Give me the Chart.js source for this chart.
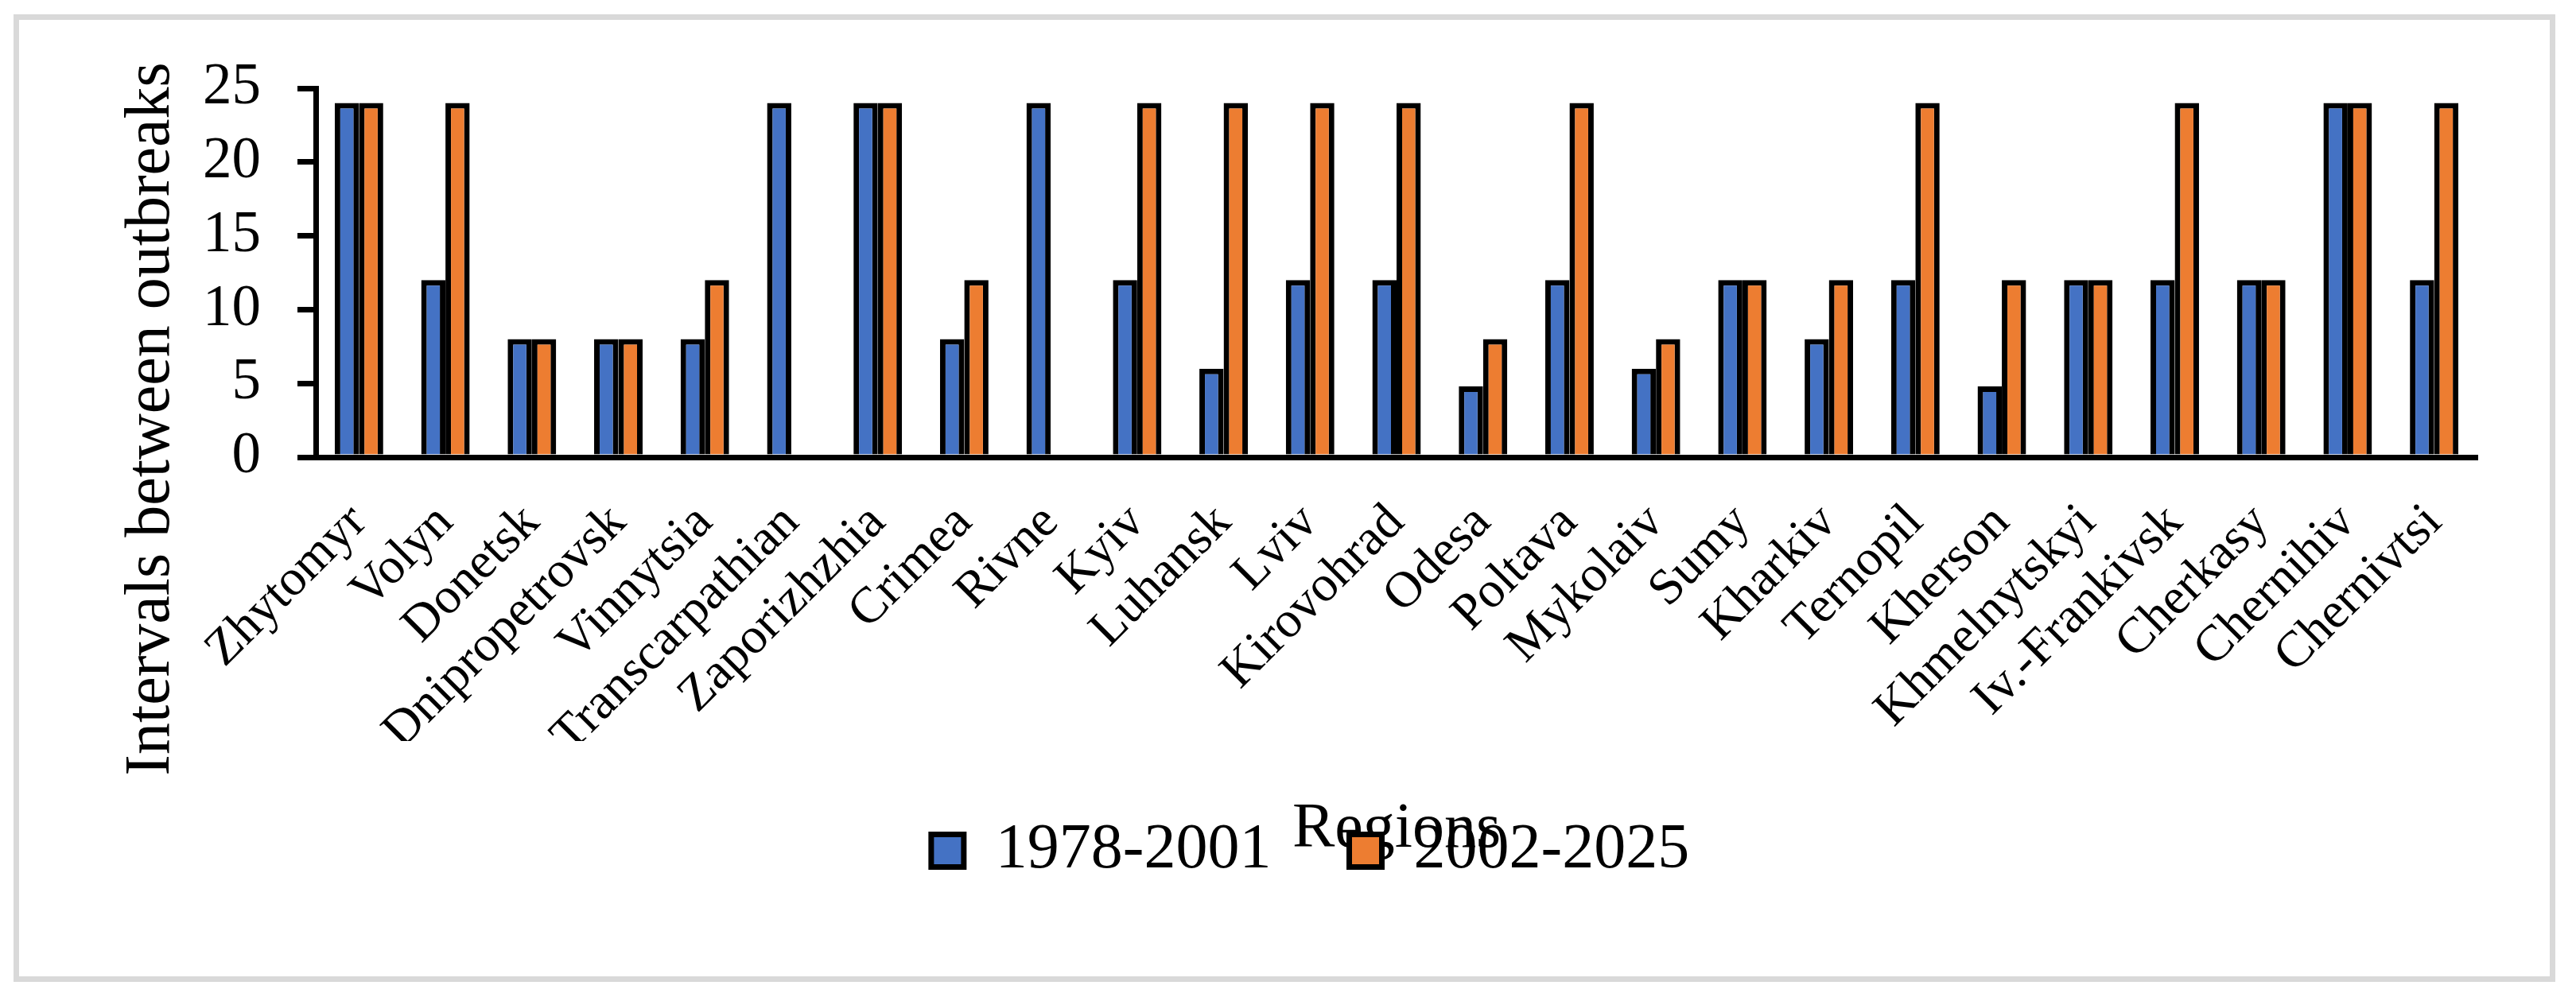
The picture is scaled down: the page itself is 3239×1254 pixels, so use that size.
<!DOCTYPE html>
<html lang="en">

<head>
    <meta charset="UTF-8">
    <title>Intervals between outbreaks</title>
    <style>
        body {
            margin: 0;
            background: #ffffff;
        }
    </style>
</head>

<body>
    <canvas id="outbreaks-chart" width="3239" height="1254"></canvas>

    <script src="https://cdn.jsdelivr.net/npm/chart.js"></script>
    <script>
        // categories (x axis)
        const regions = ['Zhytomyr', 'Volyn', 'Donetsk', 'Dnipropetrovsk', 'Vinnytsia', 'Transcarpathian',
            'Zaporizhzhia', 'Crimea', 'Rivne', 'Kyiv', 'Luhansk', 'Lviv', 'Kirovohrad', 'Odesa', 'Poltava',
            'Mykolaiv', 'Sumy', 'Kharkiv', 'Ternopil', 'Kherson', 'Khmelnytskyi', 'Iv.-Frankivsk', 'Cherkasy',
            'Chernihiv', 'Chernivtsi'];

        // series
        const seriesNames = ['1978-2001', '2002-2025'];
        const period1 = [24, 12, 8, 8, 8, 24, 24, 8, 24, 12, 6, 12, 12, 4.8, 12, 6, 12, 8, 12, 4.8, 12, 12, 12, 24, 12];
        const period2 = [24, 24, 8, 8, 12, null, 24, 12, null, 24, 24, 24, 24, 8, 24, 8, 12, 12, 24, 12, 12, 24, 12, 24, 24];

        // y axis ticks
        const yMin = 0;
        const yMax = 25;
        const yStep = 5;

        const yTitle = 'Intervals between outbreaks';
        const xTitle = 'Regions';

        const serif = '"Liberation Serif", "Times New Roman", serif';
        Chart.defaults.font.family = serif;
        Chart.defaults.color = '#000000';

        // grey frame round the whole chart
        const framePlugin = {
            id: 'frame',
            beforeDraw(chart) {
                const ctx = chart.ctx;
                ctx.save();
                ctx.fillStyle = '#ffffff';
                ctx.fillRect(0, 0, chart.width, chart.height);
                ctx.strokeStyle = '#d9d9d9';
                ctx.lineWidth = 7;
                ctx.strokeRect(20.5, 21.5, 3189, 1210);
                ctx.restore();
            }
        };

        // y title sits lower than the plot centre, so draw it here
        const yTitlePlugin = {
            id: 'yTitle',
            afterDraw(chart) {
                const ctx = chart.ctx;
                ctx.save();
                ctx.translate(chart.chartArea.left - 206, 527);
                ctx.rotate(-Math.PI / 2);
                ctx.font = '80px ' + serif;
                ctx.fillStyle = '#000000';
                ctx.textAlign = 'center';
                ctx.textBaseline = 'middle';
                ctx.fillText(yTitle, 0, 0);
                ctx.restore();
            }
        };

        var ctx = document.getElementById('outbreaks-chart').getContext('2d');
        var outbreaksChart = new Chart(ctx, {
            type: 'bar',
            data: {
                labels: regions,
                datasets: [{
                    label: seriesNames[0],
                    data: period1,
                    backgroundColor: '#4472C4',
                    borderColor: '#000000',
                    borderWidth: 7
                }, {
                    label: seriesNames[1],
                    data: period2,
                    backgroundColor: '#ED7D31',
                    borderColor: '#000000',
                    borderWidth: 7
                }]
            },
            options: {
                responsive: false,
                devicePixelRatio: 1,
                animation: false,
                categoryPercentage: 0.561,
                barPercentage: 1.0,
                layout: {
                    padding: { left: 180, right: 124, top: 111, bottom: 134 }
                },
                plugins: {
                    tooltip: { enabled: false },
                    legend: {
                        position: 'bottom',
                        labels: {
                            boxWidth: 41,
                            boxHeight: 41,
                            padding: 98,
                            font: { size: 80 }
                        }
                    }
                },
                scales: {
                    x: {
                        grid: { display: false, drawTicks: false },
                        border: { display: true, color: '#000000', width: 7 },
                        ticks: {
                            autoSkip: false,
                            minRotation: 45,
                            maxRotation: 45,
                            padding: 45,
                            font: { size: 64 }
                        },
                        title: {
                            display: true,
                            text: xTitle,
                            font: { size: 80 },
                            padding: { top: 0, bottom: -160 }
                        },
                        afterFit: function (scale) {
                            scale.height = 357;
                        }
                    },
                    y: {
                        min: yMin,
                        max: yMax,
                        grid: {
                            drawOnChartArea: false,
                            drawTicks: true,
                            tickLength: 23,
                            lineWidth: 7,
                            color: '#000000'
                        },
                        border: { display: true, color: '#000000', width: 7 },
                        ticks: {
                            stepSize: yStep,
                            padding: 46,
                            font: { size: 73 }
                        },
                        afterFit: function (scale) {
                            scale.width = 217;
                        }
                    }
                }
            },
            plugins: [framePlugin, yTitlePlugin]
        });
    </script>
</body>

</html>
